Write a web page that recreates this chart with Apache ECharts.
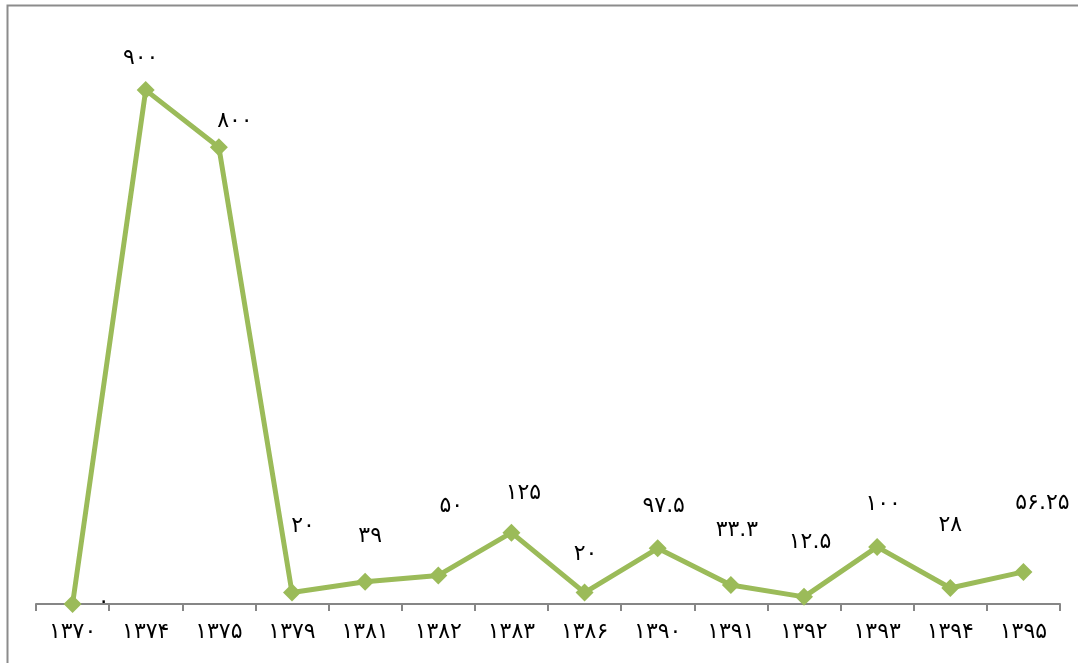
<!DOCTYPE html>
<html><head><meta charset="utf-8">
<script src="https://cdn.jsdelivr.net/npm/echarts@6/dist/echarts.min.js"></script>
<style>html,body{margin:0;padding:0;background:#fff}#c{width:1078px;height:663px}</style>
</head><body><div id="c"></div>
<script>
const categories = ['۱۳۷۰','۱۳۷۴','۱۳۷۵','۱۳۷۹','۱۳۸۱','۱۳۸۲','۱۳۸۳','۱۳۸۶','۱۳۹۰','۱۳۹۱','۱۳۹۲','۱۳۹۳','۱۳۹۴','۱۳۹۵'];
const values = [0, 900, 800, 20, 39, 50, 125, 20, 97.5, 33.3, 12.5, 100, 28, 56.25];
const valueLabels = ['۰','۹۰۰','۸۰۰','۲۰','۳۹','۵۰','۱۲۵','۲۰','۹۷.۵','۳۳.۳','۱۲.۵','۱۰۰','۲۸','۵۶.۲۵'];
// label placement (style only)
const labelOffsets = [[31,-2],[-5,-32],[16,-26],[11,-66],[5,-45],[13,-69],[12,-39],[1,-38],[6,-42],[6,-55],[6,-55],[6,-43],[0,-63],[19,-69]];

const chart = echarts.init(document.getElementById('c'), null, {renderer:'canvas'});
const font = '"DejaVu Sans", sans-serif';
chart.setOption({
  animation:false,
  backgroundColor:'#fff',
  graphic:[{type:'rect', shape:{x:7.5,y:5.5,width:1200,height:800}, style:{fill:'none', stroke:'#8c8c8c', lineWidth:2}, silent:true}],
  grid:{left:36, right:18, top:33, bottom:59},
  xAxis:{type:'category', data:categories, boundaryGap:true,
    axisLine:{lineStyle:{color:'#868686', width:2}},
    axisTick:{show:true, length:7, lineStyle:{color:'#868686', width:2}},
    axisLabel:{color:'#000', fontFamily:font, fontSize:22, margin:17}},
  yAxis:{type:'value', min:0, max:1000, show:false, splitLine:{show:false}},
  series:[{type:'line', data:values.map((v,i)=>({value:v, label:{offset:labelOffsets[i], formatter:valueLabels[i]}})),
    lineStyle:{color:'#9BBB59', width:5},
    itemStyle:{color:'#9BBB59'},
    symbol:'diamond', symbolSize:18,
    label:{show:true, position:'inside', color:'#000', fontFamily:font, fontSize:22},
    z:3}]
});
</script></body></html>
